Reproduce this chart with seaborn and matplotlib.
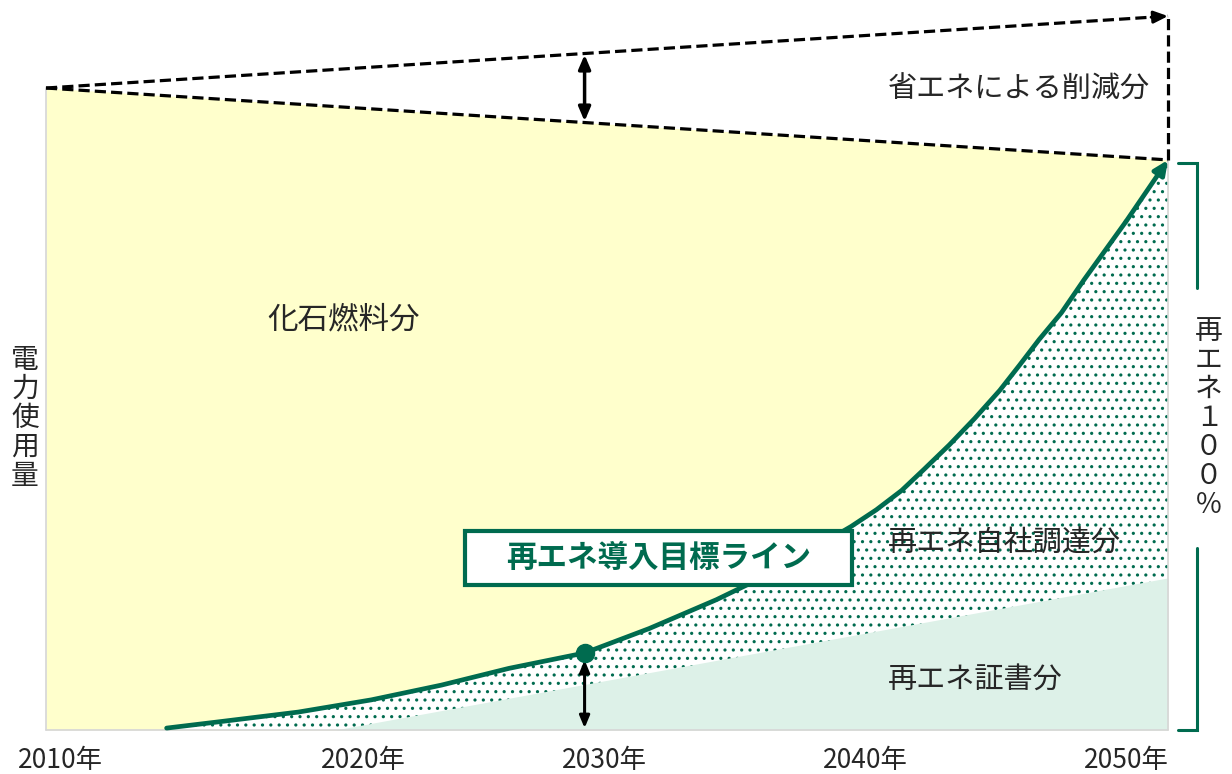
import numpy as np
import matplotlib.pyplot as plt
import seaborn as sns
from matplotlib.patches import Rectangle

# Values (x = year, y = power use, 2010 = 100)
span_years = [2010, 2050]
usage_saved = [100, 88.8]        # after energy saving
usage_bau = [100, 111.2]         # without energy saving
target_years = [2014.3, 2016.2, 2019.0, 2021.6, 2024.1, 2026.5, 2029.2,
                2031.5, 2033.9, 2035.6, 2036.9, 2038.7, 2039.6, 2040.5,
                2041.3, 2042.2, 2043.1, 2044.0, 2044.7, 2045.4, 2046.2,
                2047.0, 2048.5, 2050.0]
target_values = [0.3, 1.3, 2.8, 4.7, 7.0, 9.6, 12.0,
                 15.8, 20.3, 23.9, 27.1, 31.7, 34.3, 37.3,
                 40.6, 44.4, 48.5, 52.9, 56.8, 60.8, 65.0,
                 70.1, 79.2, 88.8]
cert_years = [2020.3, 2050]
cert_values = [0, 23.7]
milestone_year = 2029.2
milestone_value = 12.0
tick_x = [2010.5, 2021.3, 2029.9, 2039.2, 2048.5]
tick_labels = ["2010年", "2020年", "2030年", "2040年", "2050年"]

GREEN = "#006B4F"
YELLOW = "#FFFFCC"
MINT = "#DDF1E8"
FRAME = "#D6D6D6"

sns.set_theme(style="white")
plt.rcParams["font.family"] = ["Noto Sans CJK JP", "DejaVu Sans"]
plt.rcParams["hatch.linewidth"] = 1.1

fig = plt.figure(figsize=(12.32, 7.74), dpi=100)
ax = fig.add_axes([0, 0, 1, 1])
ax.set_xlim(2008.36, 2052.28)
ax.set_ylim(-6.85, 113.71)
ax.axis("off")

# areas
ax.fill_between(span_years, [0, 0], usage_saved, color=YELLOW, lw=0, zorder=1)
ax.fill_between(target_years, 0, target_values, facecolor="white",
                edgecolor=GREEN, hatch="..", lw=0, zorder=2)
ax.fill_between(cert_years, 0, cert_values, color=MINT, lw=0, zorder=3)

# light frame of plot area
ax.plot([2010, 2010], [0, 100], color=FRAME, lw=1.2, zorder=3)
ax.plot(span_years, [0, 0], color=FRAME, lw=1.2, zorder=3)
ax.plot([2050, 2050], [0, usage_saved[1]], color=FRAME, lw=1.2, zorder=3)

# dashed energy-saving lines
dash = (0, (3.5, 1.6))
ax.plot(span_years, usage_saved, color="black", lw=2.3, linestyle=dash, zorder=4)
ax.plot(span_years, usage_bau, color="black", lw=2.3, linestyle=dash, zorder=4)
ax.plot([2050, 2050], [usage_saved[1], usage_bau[1]], color="black", lw=2.3,
        linestyle=dash, zorder=4)
ax.annotate("", xy=(span_years[1], usage_bau[1]),
            xytext=(span_years[1] - 0.6, usage_bau[1] - 0.17),
            arrowprops=dict(arrowstyle="-|>,head_length=0.7,head_width=0.3",
                            color="black", lw=2.2, shrinkA=0, shrinkB=0), zorder=5)

# gap arrow between the dashed lines
frac = (milestone_year - span_years[0]) / (span_years[1] - span_years[0])
y_lo = usage_saved[0] + (usage_saved[1] - usage_saved[0]) * frac
y_hi = usage_bau[0] + (usage_bau[1] - usage_bau[0]) * frac
ax.annotate("", xy=(milestone_year, y_hi - 0.2), xytext=(milestone_year, y_lo + 0.2),
            arrowprops=dict(arrowstyle="<|-|>,head_length=0.7,head_width=0.3",
                            color="black", lw=2.5, shrinkA=0, shrinkB=0), zorder=5)

# renewable target line
sns.lineplot(x=target_years[:-1], y=target_values[:-1], color=GREEN, lw=3.4,
             ax=ax, zorder=6, estimator=None, sort=False,
             solid_joinstyle="round", solid_capstyle="round")
ax.annotate("", xy=(target_years[-1], target_values[-1]),
            xytext=(target_years[-2], target_values[-2]),
            arrowprops=dict(arrowstyle="-|>,head_length=0.7,head_width=0.32",
                            color=GREEN, lw=3.4, shrinkA=0, shrinkB=0), zorder=6)
ax.plot(milestone_year, milestone_value, "o", color=GREEN, ms=13, zorder=7)
ax.annotate("", xy=(milestone_year, 0.3), xytext=(milestone_year, milestone_value - 1.1),
            arrowprops=dict(arrowstyle="<|-|>,head_length=0.6,head_width=0.25",
                            color="black", lw=2.2, shrinkA=0, shrinkB=0), zorder=6)

# label box
ax.add_patch(Rectangle((2024.94, 22.6), 13.79, 8.4, facecolor="white",
                       edgecolor=GREEN, lw=3, zorder=8))
ax.text(2031.83, 26.8, "再エネ導入目標ライン", color=GREEN, fontsize=22,
        fontweight="bold", ha="center", va="center", zorder=9)

# area labels
ax.text(2020.6, 63.9, "化石燃料分", fontsize=22, ha="center", va="center", zorder=9)
ax.text(2040.0, 99.8, "省エネによる削減分", fontsize=21, ha="left", va="center", zorder=9)
ax.text(2040.0, 29.0, "再エネ自社調達分", fontsize=21, ha="left", va="center", zorder=9)
ax.text(2040.0, 7.8, "再エネ証書分", fontsize=21, ha="left", va="center", zorder=9)

# x tick labels
for x, lab in zip(tick_x, tick_labels):
    ax.text(x, -4.7, lab, fontsize=19, ha="center", va="center")

# vertical labels
ax.text(2009.25, 48.6, "\n".join("電力使用量"), fontsize=20, ha="center",
        va="center", linespacing=0.95)
ax.text(2051.46, 48.6, "\n".join("再エネ１００％"), fontsize=20, ha="center",
        va="center", linespacing=0.95)

# right bracket
ax.plot([2050.36, 2051.03, 2051.03], [88.3, 88.3, 68.8], color=GREEN, lw=2.2,
        solid_joinstyle="miter")
ax.plot([2051.03, 2051.03, 2050.36], [28.3, 0, 0], color=GREEN, lw=2.2,
        solid_joinstyle="miter")

fig.savefig("out.png", dpi=100)
